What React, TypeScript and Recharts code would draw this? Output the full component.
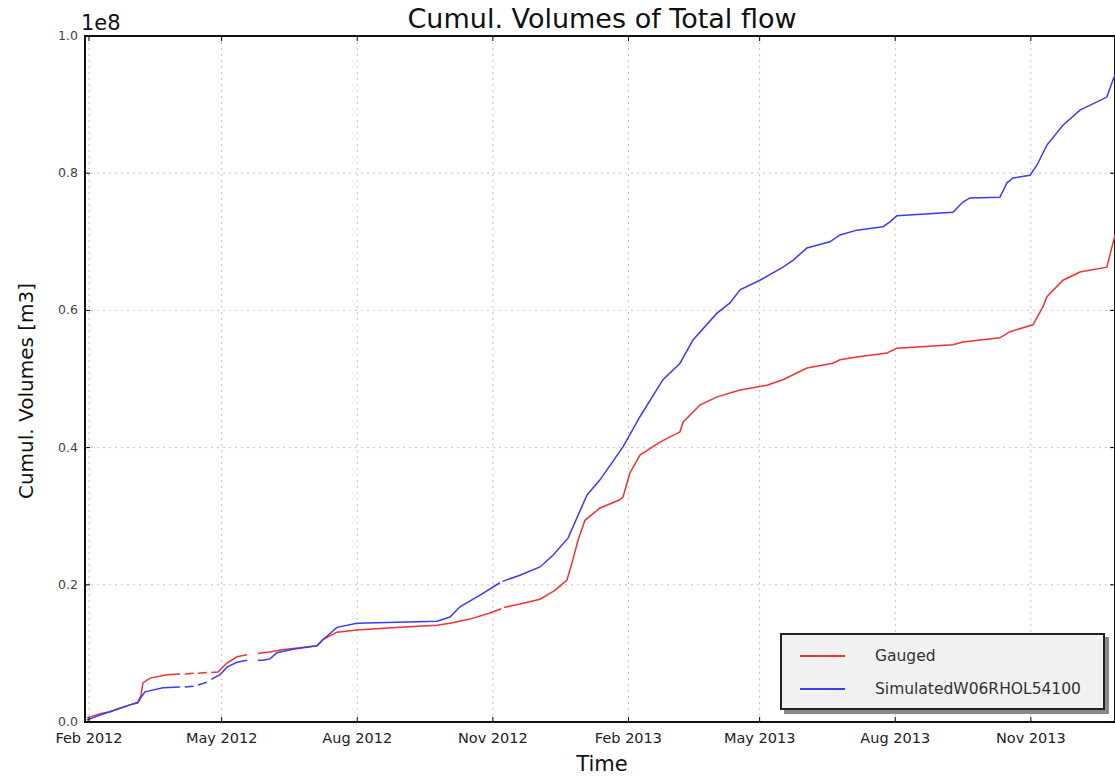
import React from 'react';
import { LineChart, Line, XAxis, YAxis, CartesianGrid, ReferenceArea, Legend } from 'recharts';

// x values: days since 1 Feb 2012; y values: cumulative volume in units of 1e8 m3 (null = missing data)
const gaugedDays = [-1.4, 7.5, 14.2, 21.0, 27.8, 33.2, 35.3, 36.6, 41.4, 52.9, 61.7, 63, 65, 71, 72.5, 74, 80, 81.5, 83, 87.5, 93.6, 100.4, 107.2, 109, 114.5, 118.0, 122.8, 129.6, 154.7, 158.7, 168.2, 181.8, 211.0, 236.1, 244.9, 258.5, 272.0, 279.8, 280.6, 281.5, 292.4, 306.0, 316.1, 324.3, 327.7, 331.8, 336.5, 346.7, 360.2, 362.3, 367.0, 373.8, 387.4, 401.0, 403.0, 414.5, 426.1, 441.7, 460.0, 470.8, 487.1, 504.7, 509.5, 521.0, 541.4, 548.2, 586.2, 592.9, 618.0, 624.8, 640.4, 647.2, 649.9, 660.8, 672.3, 690.6, 694.7, 696.5];
const gaugedValues = [0.006, 0.012, 0.015, 0.020, 0.025, 0.029, 0.039, 0.057, 0.064, 0.069, 0.070, null, 0.070, 0.071, null, 0.071, 0.072, null, 0.072, 0.073, 0.086, 0.095, 0.098, null, 0.100, 0.101, 0.102, 0.105, 0.111, 0.120, 0.131, 0.134, 0.138, 0.141, 0.144, 0.150, 0.159, 0.165, null, 0.167, 0.172, 0.179, 0.192, 0.207, 0.232, 0.265, 0.294, 0.312, 0.324, 0.328, 0.363, 0.389, 0.408, 0.423, 0.437, 0.462, 0.474, 0.484, 0.491, 0.499, 0.516, 0.523, 0.528, 0.532, 0.538, 0.545, 0.550, 0.554, 0.560, 0.569, 0.579, 0.605, 0.620, 0.644, 0.656, 0.663, 0.698, 0.712];

const simulatedDays = [-1.4, 7.5, 14.2, 21.0, 27.8, 33.2, 35.3, 38.0, 50.2, 61.7, 63, 65, 71, 72.5, 74, 80, 81.5, 83, 88.9, 93.6, 100.4, 107.2, 109, 114.5, 118.0, 122.8, 127.5, 138.4, 154.7, 158.7, 168.2, 181.8, 236.1, 244.9, 251.7, 265.3, 278.8, 279.6, 280.5, 292.4, 306.0, 314.8, 325.0, 337.9, 346.7, 362.3, 373.8, 389.4, 401.0, 409.8, 426.1, 434.9, 441.7, 455.2, 470.8, 477.6, 487.1, 493.9, 502.7, 509.5, 521.0, 538.7, 543.4, 548.2, 586.2, 592.9, 597.7, 618.0, 622.8, 626.9, 638.4, 643.2, 649.9, 660.8, 672.3, 690.6, 694.7, 696.5];
const simulatedValues = [0.003, 0.010, 0.015, 0.020, 0.025, 0.028, 0.036, 0.044, 0.050, 0.051, null, 0.051, 0.052, null, 0.054, 0.058, null, 0.062, 0.069, 0.080, 0.087, 0.090, null, 0.090, 0.090, 0.092, 0.101, 0.106, 0.111, 0.120, 0.138, 0.144, 0.147, 0.153, 0.168, 0.185, 0.203, null, 0.205, 0.214, 0.226, 0.243, 0.268, 0.331, 0.353, 0.401, 0.445, 0.499, 0.523, 0.557, 0.596, 0.611, 0.630, 0.644, 0.663, 0.673, 0.691, 0.695, 0.700, 0.710, 0.717, 0.722, 0.729, 0.738, 0.743, 0.758, 0.764, 0.765, 0.786, 0.793, 0.797, 0.812, 0.841, 0.870, 0.892, 0.911, 0.936, 0.945];

const xTickDays = [0, 90, 182, 274, 366, 455, 547, 639];
const xTickLabels = ['Feb 2012', 'May 2012', 'Aug 2012', 'Nov 2012', 'Feb 2013', 'May 2013', 'Aug 2013', 'Nov 2013'];
const yTicks = [0, 0.2, 0.4, 0.6, 0.8, 1.0];

const seriesNames = ['Gauged', 'SimulatedW06RHOL54100'];
const seriesColors = ['#f03232', '#3c3cf0'];

const X_DOMAIN: [number, number] = [-2.7, 696.1];

const W = 1115;
const H = 778;
const PLOT_LEFT = 85;
const PLOT_TOP = 36;
const PLOT_BOTTOM = 722;
const PLOT_RIGHT = 1115;
const FONT = 'DejaVu Sans, sans-serif';

const gaugedData = gaugedDays.map((t, i) => ({ t, v: gaugedValues[i] }));
const simulatedData = simulatedDays.map((t, i) => ({ t, v: simulatedValues[i] }));

const XTick = (props: any) => {
  const { x, payload } = props;
  const idx = xTickDays.indexOf(payload.value);
  return (
    <g>
      <line x1={x} x2={x} y1={PLOT_BOTTOM} y2={PLOT_BOTTOM - 5} stroke="#000" strokeWidth={1} />
      <line x1={x} x2={x} y1={PLOT_TOP} y2={PLOT_TOP + 5} stroke="#000" strokeWidth={1} />
      <text x={x} y={PLOT_BOTTOM + 21} textAnchor="middle" fontFamily={FONT} fontSize={14.5} fill="#222">
        {idx >= 0 ? xTickLabels[idx] : ''}
      </text>
    </g>
  );
};

const YTick = (props: any) => {
  const { y, payload } = props;
  return (
    <g>
      <line x1={PLOT_LEFT} x2={PLOT_LEFT + 5} y1={y} y2={y} stroke="#000" strokeWidth={1} />
      <line x1={PLOT_RIGHT} x2={PLOT_RIGHT - 5} y1={y} y2={y} stroke="#000" strokeWidth={1} />
      <text x={PLOT_LEFT - 7} y={y + 4} textAnchor="end" fontFamily={FONT} fontSize={12.5} fill="#444">
        {Number(payload.value).toFixed(1)}
      </text>
    </g>
  );
};

const LegendBox = (props: any) => {
  const items = props.payload || [];
  return (
    <div style={{ position: 'relative', width: 325, height: 77 }}>
      <div style={{ position: 'absolute', left: 4, top: 4, width: 325, height: 77, background: '#8a8a8a' }} />
      <div
        style={{
          position: 'absolute',
          left: 0,
          top: 0,
          width: 321,
          height: 73,
          background: '#f1f1f1',
          border: '2px solid #222',
          fontFamily: FONT,
          fontSize: 15.5,
          color: '#333',
        }}
      >
        {items.map((it: any, i: number) => (
          <div key={i} style={{ position: 'absolute', left: 18, top: 11 + i * 33, height: 20, display: 'flex', alignItems: 'center', whiteSpace: 'nowrap' }}>
            <div style={{ width: 45, height: 2, background: it.color }} />
            <span style={{ marginLeft: 30 }}>{it.value}</span>
          </div>
        ))}
      </div>
    </div>
  );
};

export default function App() {
  return (
    <div style={{ position: 'absolute', left: 0, top: 0, width: W, height: H, background: '#fff' }}>
      <LineChart width={W} height={H} margin={{ top: PLOT_TOP, right: W - PLOT_RIGHT, left: 0, bottom: 0 }}>
        <CartesianGrid stroke="#c4c4c4" strokeDasharray="2 4" strokeWidth={1} />
        <XAxis
          dataKey="t"
          type="number"
          domain={X_DOMAIN}
          ticks={xTickDays}
          allowDataOverflow
          height={H - PLOT_BOTTOM}
          axisLine={false}
          tickLine={false}
          tick={<XTick />}
          interval={0}
        />
        <YAxis
          type="number"
          domain={[0, 1]}
          ticks={yTicks}
          width={PLOT_LEFT}
          axisLine={false}
          tickLine={false}
          tick={<YTick />}
          interval={0}
        />
        <Line
          data={gaugedData}
          dataKey="v"
          name={seriesNames[0]}
          stroke={seriesColors[0]}
          strokeWidth={1.5}
          dot={false}
          connectNulls={false}
          isAnimationActive={false}
          type="linear"
        />
        <Line
          data={simulatedData}
          dataKey="v"
          name={seriesNames[1]}
          stroke={seriesColors[1]}
          strokeWidth={1.5}
          dot={false}
          connectNulls={false}
          isAnimationActive={false}
          type="linear"
        />
        <ReferenceArea
          x1={X_DOMAIN[0]}
          x2={X_DOMAIN[1]}
          y1={0}
          y2={1}
          fill="none"
          fillOpacity={0}
          stroke="#111"
          strokeWidth={2}
          ifOverflow="visible"
        />
        <Legend
          layout="vertical"
          align="center"
          verticalAlign="middle"
          content={<LegendBox />}
          wrapperStyle={{ position: 'absolute', left: 780, top: 633, width: 330, height: 82 }}
        />
      </LineChart>
      <svg width={W} height={H} style={{ position: 'absolute', left: 0, top: 0, pointerEvents: 'none' }}>
        <text x={602} y={28} textAnchor="middle" fontFamily={FONT} fontSize={27} fill="#111">
          Cumul. Volumes of Total flow
        </text>
        <text x={PLOT_LEFT - 4} y={30} fontFamily={FONT} fontSize={21} fill="#111">
          1e8
        </text>
        <text x={602} y={771} textAnchor="middle" fontFamily={FONT} fontSize={21} fill="#111">
          Time
        </text>
        <text
          x={33}
          y={391}
          textAnchor="middle"
          fontFamily={FONT}
          fontSize={20}
          fill="#111"
          transform="rotate(-90 33 391)"
        >
          Cumul. Volumes [m3]
        </text>
      </svg>
    </div>
  );
}
